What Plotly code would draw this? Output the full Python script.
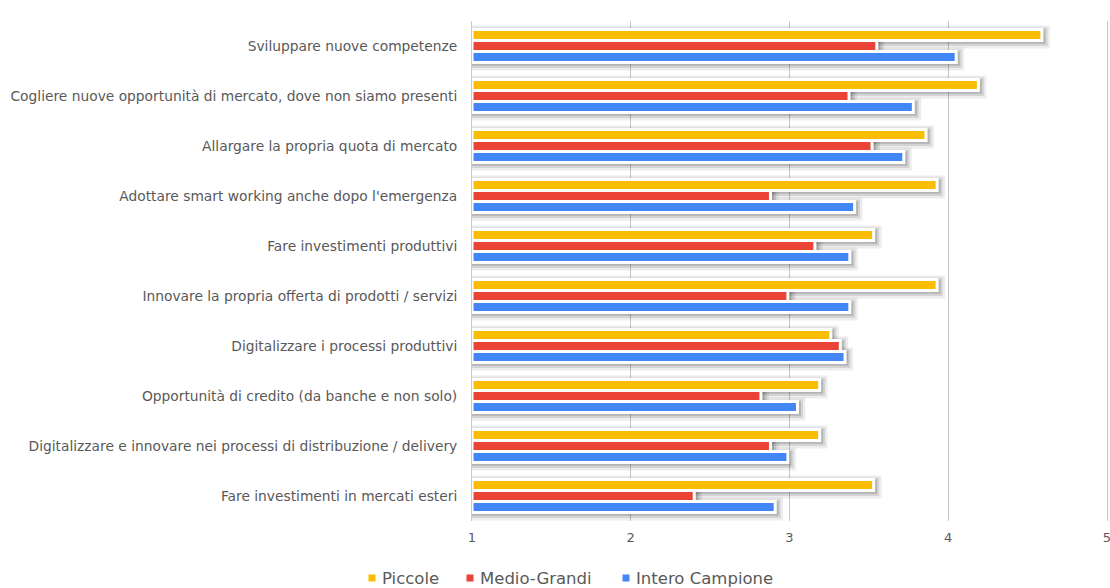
import plotly.graph_objects as go

categories = [
    "Sviluppare nuove competenze",
    "Cogliere nuove opportunità di mercato, dove non siamo presenti",
    "Allargare la propria quota di mercato",
    "Adottare smart working anche dopo l'emergenza",
    "Fare investimenti produttivi",
    "Innovare la propria offerta di prodotti / servizi",
    "Digitalizzare i processi produttivi",
    "Opportunità di credito (da banche e non solo)",
    "Digitalizzare e innovare nei processi di distribuzione / delivery",
    "Fare investimenti in mercati esteri",
]
piccole = [4.59, 4.19, 3.86, 3.93, 3.53, 3.93, 3.26, 3.19, 3.19, 3.53]
medio_grandi = [3.55, 3.375, 3.52, 2.88, 3.16, 2.99, 3.32, 2.82, 2.88, 2.40]
intero_campione = [4.05, 3.78, 3.72, 3.41, 3.38, 3.38, 3.35, 3.05, 2.99, 2.91]
x_ticks = [1, 2, 3, 4, 5]

series_names = ["Piccole", "Medio-Grandi", "Intero Campione"]
series_values = [piccole, medio_grandi, intero_campione]
series_colors = ["#FBBC04", "#EA4335", "#4285F4"]

BASE = 1
BAR_W = 0.22
TEXT = "#595959"
FONT = "DejaVu Sans, Liberation Sans, Arial, sans-serif"

# plot box in pixels; the axis runs a hair past 5 so its gridline stays visible
W, H = 1110, 588
PLOT_L, PLOT_R, PLOT_T, PLOT_B = 472, 1109, 21, 521
X_MIN, X_MAX = 1, 5.0126


def px_to_paper(px, py):
    return ((px - PLOT_L) / (PLOT_R - PLOT_L), (PLOT_B - py) / (PLOT_B - PLOT_T))


fig = go.Figure()

# soft drop shadows: several translucent layers, slightly offset right/down
shadow_layers = [
    (0.46, 0.04, 0.050, "rgba(0,0,0,0.07)"),
    (0.37, 0.035, 0.035, "rgba(0,0,0,0.10)"),
    (0.29, 0.03, 0.022, "rgba(0,0,0,0.15)"),
]
for i, vals in enumerate(series_values):
    center = (i - 1) * BAR_W
    for w, dy, dx, c in shadow_layers:
        fig.add_trace(go.Bar(
            y=categories,
            x=[v - BASE + dx for v in vals],
            base=BASE,
            orientation="h",
            width=w,
            offset=center - w / 2 + dy,
            marker=dict(color=c, line=dict(width=0)),
            showlegend=False,
            hoverinfo="skip",
        ))

for i, (name, vals, color) in enumerate(zip(series_names, series_values, series_colors)):
    center = (i - 1) * BAR_W
    fig.add_trace(go.Bar(
        y=categories,
        x=[v - BASE for v in vals],
        base=BASE,
        orientation="h",
        width=BAR_W,
        offset=center - BAR_W / 2,
        name=name,
        marker=dict(color=color, line=dict(color="white", width=3)),
        showlegend=False,
    ))

# legend drawn below the axis: small square key followed by the series name
legend_key_x = [372, 470, 626]
legend_y = 578
for name, color, kx in zip(series_names, series_colors, legend_key_x):
    x0, y0 = px_to_paper(kx - 3.5, legend_y - 3.5)
    x1, y1 = px_to_paper(kx + 3.5, legend_y + 3.5)
    fig.add_shape(type="rect", xref="paper", yref="paper",
                  x0=x0, x1=x1, y0=y0, y1=y1,
                  fillcolor=color, line=dict(width=0))
    tx, ty = px_to_paper(kx + 8, legend_y)
    fig.add_annotation(xref="paper", yref="paper", x=tx, y=ty,
                       text=name, showarrow=False,
                       xanchor="left", yanchor="middle",
                       font=dict(size=16.5, color=TEXT, family=FONT))

fig.update_layout(
    width=W,
    height=H,
    barmode="overlay",
    showlegend=False,
    plot_bgcolor="white",
    paper_bgcolor="white",
    margin=dict(l=PLOT_L, r=W - PLOT_R, t=PLOT_T, b=H - PLOT_B, autoexpand=False),
    font=dict(family=FONT, color=TEXT, size=13),
    xaxis=dict(
        range=[X_MIN, X_MAX],
        tickvals=x_ticks,
        ticktext=[str(t) for t in x_ticks],
        showgrid=True,
        gridcolor="#c8c8c8",
        gridwidth=1,
        zeroline=False,
        showline=False,
        ticks="",
        ticklabelstandoff=7,
        ticklabeloverflow="allow",
        tickfont=dict(size=13, color=TEXT),
        fixedrange=True,
    ),
    yaxis=dict(
        type="category",
        categoryorder="array",
        categoryarray=categories,
        autorange="reversed",
        showgrid=False,
        showline=True,
        linecolor="#c8c8c8",
        linewidth=1,
        ticks="",
        ticklabelstandoff=11,
        tickfont=dict(size=13.8, color=TEXT),
        fixedrange=True,
    ),
)

fig.write_html("out.html")
